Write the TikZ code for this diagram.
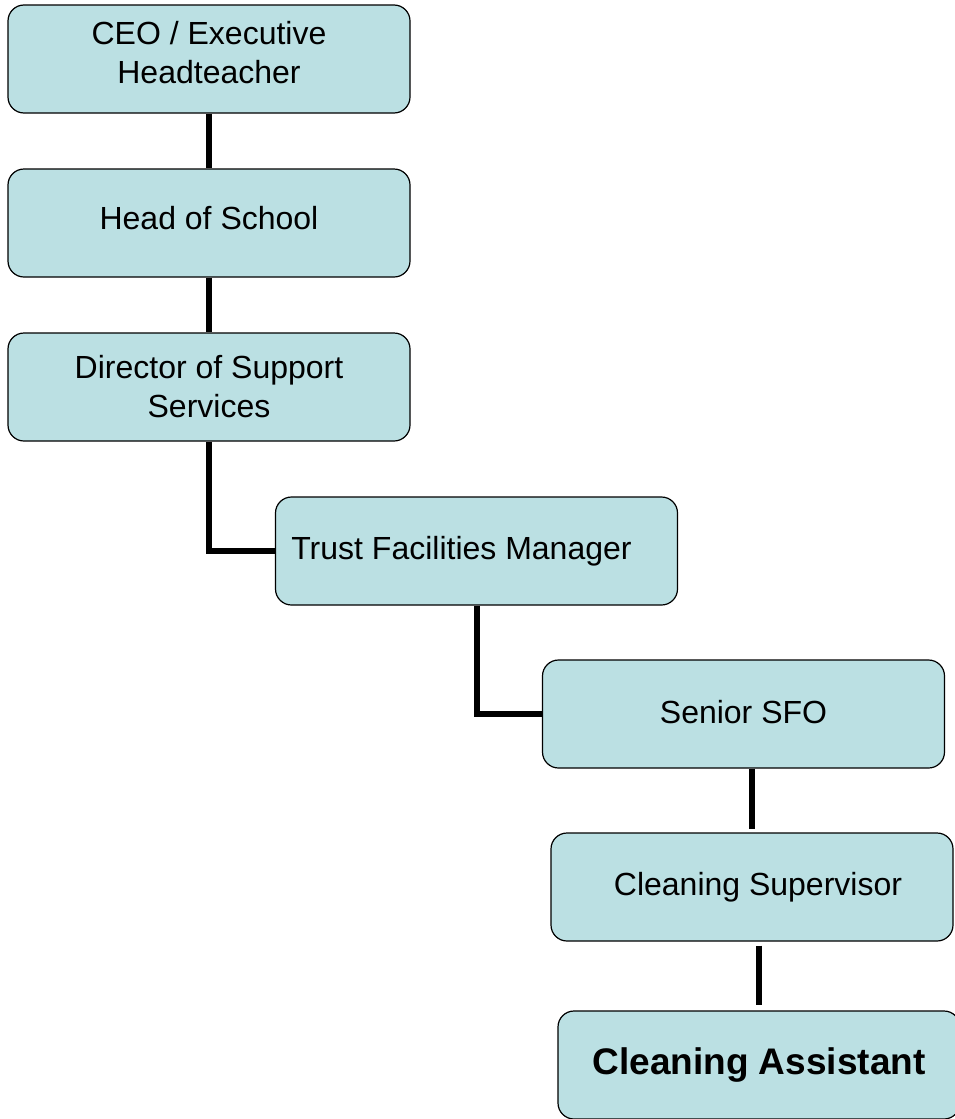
\documentclass[tikz,border=0pt]{standalone}
\usepackage{fontspec}
\setmainfont{Liberation Sans}
\definecolor{boxblue}{RGB}{187,224,227}

\begin{document}
\begin{tikzpicture}[x=1pt,y=-1pt,
    post/.style={draw, line width=1.2pt, rounded corners=16pt, fill=boxblue,
      minimum width=402pt, minimum height=108pt, inner sep=0pt, align=center,
      font=\fontsize{32}{39}\selectfont},
    link/.style={line width=6pt}]
  \useasboundingbox (0,0) rectangle (955,1119);
  % Boxes
  \node[post, text depth=14pt] (ceo) at (209,59) {CEO / Executive\\Headteacher};
  \node[post, text depth=10pt] (head) at (209,223) {Head of School};
  \node[post] (dir) at (209,387) {Director of Support\\Services};
  \node[post] (tfm) at (476.5,551) {Trust Facilities Manager\hspace*{30pt}};
  \node[post, text depth=5pt] (sfo) at (743.5,714) {Senior SFO};
  \node[post] (sup) at (752,887) {\hspace*{12pt}Cleaning Supervisor};
  \node[post, font=\bfseries\fontsize{37}{44}\selectfont] (ca) at (759,1065) {Cleaning Assistant};
  % Links
  \draw[link] (ceo) -- (head);
  \draw[link] (head) -- (dir);
  \draw[link] (dir.south) |- (tfm.west);
  \draw[link] (tfm.south) |- (sfo.west);
  \draw[link] (sup.north |- sfo.south) -- ([yshift=3pt]sup.north);
  \draw[link] ([yshift=-4pt]sup.south -| ca.north) -- ([yshift=5pt]ca.north);
\end{tikzpicture}
\end{document}
